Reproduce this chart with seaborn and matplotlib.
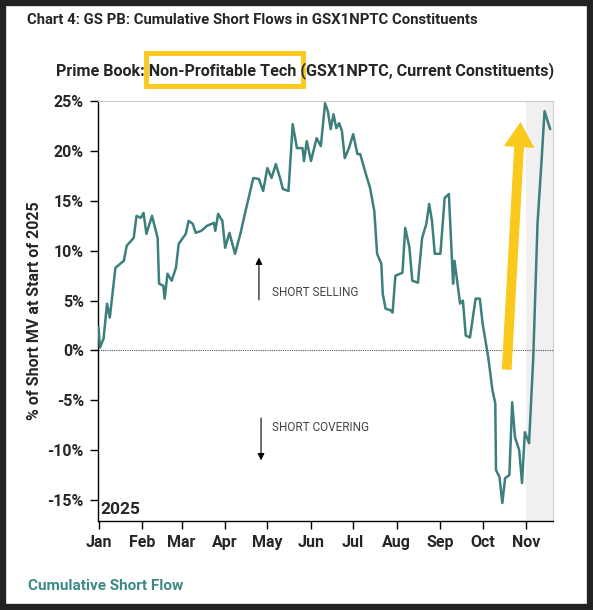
import matplotlib
matplotlib.use("Agg")
import matplotlib.pyplot as plt
import seaborn as sns
import pandas as pd
import numpy as np
from matplotlib.patches import Rectangle

days = [0,1,3.6,6,8,12,18,20,25,27,30,32,34,38,42,43,46,47,49,52,55,57,62,64,67,69,73,77,82,83,85,88,90,93,97,101,104,110,114,117,120,123,126,129,131,135,138,141,145,146,148,151,155,158,161,163,165,167,169,171,173,175,178,181,184,186,190,193,196,198,201,202,204,208,209,211,216,218,221,223,227,230,233,235,237,239,241,243,246,249,252,253,257,259,261,264,268,271,273,277,280,282,282.5,285,287,289,292,294,296,299,301,303,306,309,312,315,317,321]
values = [2.3,0.3,1.2,4.7,3.3,8.3,9,10.5,11.3,13.5,13.3,13.8,11.7,13.5,11.3,6.7,6.5,5.2,7.7,7,8.3,10.7,11.7,13,12.7,11.8,12,12.5,12.8,12,13.7,13,10.3,11.8,9.7,11.8,13.7,17.3,17.2,16,18.3,17.3,18.7,17.3,16.2,16,22.7,20.3,20.3,19,21,19,21.3,20.5,24.8,24,22.2,23.7,22.3,22.8,22,19.3,20.3,21.7,19.7,19.7,17.7,16.3,14,9.7,8.7,5.7,4.2,4,3.8,7.5,7.8,12.3,10.3,7,6.8,11.3,12.7,14.7,13,9.7,9.7,9.7,15.3,15.7,6.7,9,4.7,5,1.5,1.3,5.2,5.2,2.7,-0.7,-4,-5.3,-12,-12.7,-15.3,-12.8,-12.5,-5.2,-8.7,-10,-13.3,-8.2,-9.3,-0.7,12.7,19.3,24,22.2]
yticks = [-15,-10,-5,0,5,10,15,20,25]
months = ["Jan","Feb","Mar","Apr","May","Jun","Jul","Aug","Sep","Oct","Nov"]

start = pd.Timestamp("2025-01-01")
df = pd.DataFrame({"date": [start + pd.Timedelta(days=d) for d in days], "val": values})

sns.set_style("white")
plt.rcParams['font.family'] = ['Roboto', 'DejaVu Sans']
fig = plt.figure(figsize=(5.93, 6.10), dpi=100)
ax = fig.add_axes([0.165, 0.146, 0.7675, 0.688])

xmax = start + pd.Timedelta(days=323)
ax.axvspan(pd.Timestamp("2025-11-01"), xmax, color="#f0f0f0", zorder=0)
ax.axhline(0, color="#555555", lw=0.8, ls=(0, (1, 1)), zorder=1)
sns.lineplot(data=df, x="date", y="val", color="#3c7f7d", lw=1.8, ax=ax, zorder=3)
ax.set_xlim(start - pd.Timedelta(days=0.5), xmax)
ax.set_ylim(-17.1, 25)
ax.set_yticks(yticks)
ax.set_yticklabels([f"{t}%" for t in yticks], fontsize=11.5, fontweight="bold")
mt = [pd.Timestamp(f"2025-{m:02d}-01") for m in range(1, 12)]
ax.set_xticks(mt)
ax.set_xticklabels(months, fontsize=11.5, fontweight="bold")
ax.tick_params(axis="both", direction="out", length=6, width=1, color="black", left=True, bottom=True, pad=4)
ax.set_xlabel("")
ax.set_ylabel("% of Short MV at Start of 2025", fontsize=11.5, fontweight="bold")
for s in ["left", "bottom"]:
    ax.spines[s].set_color("black"); ax.spines[s].set_linewidth(1)
for s in ["top", "right"]:
    ax.spines[s].set_color("#cccccc"); ax.spines[s].set_linewidth(0.8)

ax.text(0.005, 0.01, "2025", transform=ax.transAxes, fontsize=12.5, fontweight="bold", va="bottom")
d = lambda n: start + pd.Timedelta(days=n)
ax.annotate("", xy=(d(114), 9.6), xytext=(d(114), 4.8), arrowprops=dict(arrowstyle="-|>", color="black", lw=0.8))
ax.text(d(123), 5.8, "SHORT SELLING", fontsize=8.5, color="#444444", va="center")
ax.annotate("", xy=(d(115.5), -11.3), xytext=(d(115.5), -6.5), arrowprops=dict(arrowstyle="-|>", color="black", lw=0.8))
ax.text(d(123), -7.7, "SHORT COVERING", fontsize=8.5, color="#444444", va="center")
ax.annotate("", xy=(d(300), 23.2), xytext=(d(290), -2.2),
            arrowprops=dict(arrowstyle="simple,head_width=2.2,head_length=1.8,tail_width=0.7", color="#fbc81c", lw=0), zorder=4)

fig.text(0.045, 0.967, "Chart 4: GS PB: Cumulative Short Flows in GSX1NPTC Constituents", fontsize=10.7, fontweight="bold", va="center")
fig.text(0.515, 0.885, "Prime Book: Non-Profitable Tech (GSX1NPTC, Current Constituents)", fontsize=11.6, fontweight="bold", ha="center", va="center")
fig.patches.append(Rectangle((146/593, 1-86/610), (303-146)/593, 33/610, transform=fig.transFigure, fill=False, ec="#fbc81c", lw=3.5))
fig.text(0.048, 0.04, "Cumulative Short Flow", fontsize=11, fontweight="bold", color="#3c8a85", va="center")
fig.patches.append(Rectangle((0.004, 0.004), 0.992, 0.992, transform=fig.transFigure, fill=False, ec="#222222", lw=6))
fig.savefig("out.png", dpi=100)
